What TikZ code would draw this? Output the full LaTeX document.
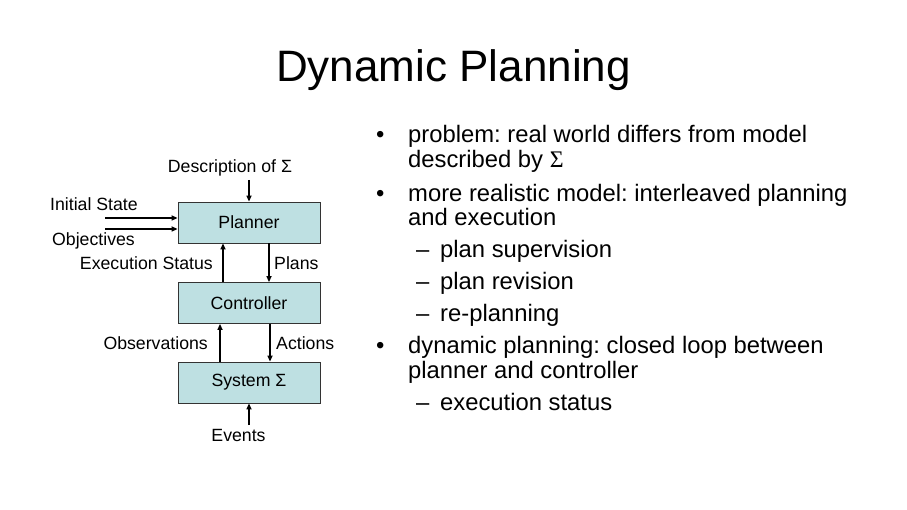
\documentclass[tikz,border=0pt]{standalone}
\usepackage{fontspec}
\setmainfont{Liberation Sans}
\newfontfamily\serifsig{Liberation Serif}
\usetikzlibrary{arrows.meta}
\definecolor{boxfill}{RGB}{190,224,226}
\frenchspacing
\begin{document}
\begin{tikzpicture}[x=1pt,y=-1pt,
  blk/.style={draw=black!80,line width=0.8pt,fill=boxfill,minimum width=142pt,minimum height=41pt,font=\fontsize{17.7}{20}\selectfont,inner sep=0pt},
  lbl/.style={font=\fontsize{17.7}{20}\selectfont,inner sep=0pt,anchor=base},
  arr/.style={line width=1.6pt,-{Triangle[length=6pt,width=5pt]}},
  txt/.style={font=\fontsize{23.8}{28}\selectfont\frenchspacing,inner sep=0pt,anchor=base west}]
\useasboundingbox[fill=white] (0,0) rectangle (907,510);
% title
\node[font=\fontsize{44}{50}\selectfont,inner sep=0pt,anchor=base] (title) at (453.5,82) {Dynamic Planning};
% boxes
\node[blk] (planner) at (249,222.5) {Planner};
\node[blk] (controller) at (249,303) {Controller};
\node[blk] (system) at (249,382.5) {System Σ};
% labels
\node[lbl] (desc) at (230,173) {Description of Σ};
\node[lbl,anchor=base west] (init) at (50,211) {Initial State};
\node[lbl,anchor=base west] (obj) at (52,246) {Objectives};
\node[lbl,anchor=base east] (exec) at (213,270) {Execution Status};
\node[lbl,anchor=base west] (plans) at (274,270) {Plans};
\node[lbl,anchor=base east] (obs) at (208,349) {Observations};
\node[lbl,anchor=base west] (act) at (276,349) {Actions};
\node[lbl] (events) at (238.5,441) {Events};
% free ends
\coordinate (d0) at (249,180);
\coordinate (i0) at (105,218);
\coordinate (o0) at (105,229);
\coordinate (e0) at (249,425);
% arrows
\draw[arr] (d0) -- (d0 |- planner.north);
\draw[arr] (i0) -- (i0 -| planner.west);
\draw[arr] (o0) -- (o0 -| planner.west);
\draw[arr] ([xshift=-26pt]controller.north) -- ([xshift=-26pt]planner.south);
\draw[arr] ([xshift=20pt]planner.south) -- ([xshift=20pt]controller.north);
\draw[arr] ([xshift=-29pt]system.north) -- ([xshift=-29pt]controller.south);
\draw[arr] ([xshift=21pt]controller.south) -- ([xshift=21pt]system.north);
\draw[arr] (e0) -- (e0 |- system.south);
% bullet text
\node[txt] (b1) at (376,143) {•};
\node[txt] (l1) at (408,143) {problem: real world differs from model};
\node[txt] (l2) at (408,168) {described by {\serifsig Σ}};
\node[txt] (b2) at (376,202) {•};
\node[txt] (l3) at (408,202) {more realistic model: interleaved planning};
\node[txt] (l4) at (408,226) {and execution};
\node[txt] (d1) at (416,258) {–};
\node[txt] (l5) at (440,258) {plan supervision};
\node[txt] (d2) at (416,290) {–};
\node[txt] (l6) at (440,290) {plan revision};
\node[txt] (d3) at (416,322) {–};
\node[txt] (l7) at (440,322) {re-planning};
\node[txt] (b3) at (376,353) {•};
\node[txt] (l8) at (408,353) {dynamic planning: closed loop between};
\node[txt] (l9) at (408,378) {planner and controller};
\node[txt] (d4) at (416,410) {–};
\node[txt] (l10) at (440,410) {execution status};
\end{tikzpicture}
\end{document}
